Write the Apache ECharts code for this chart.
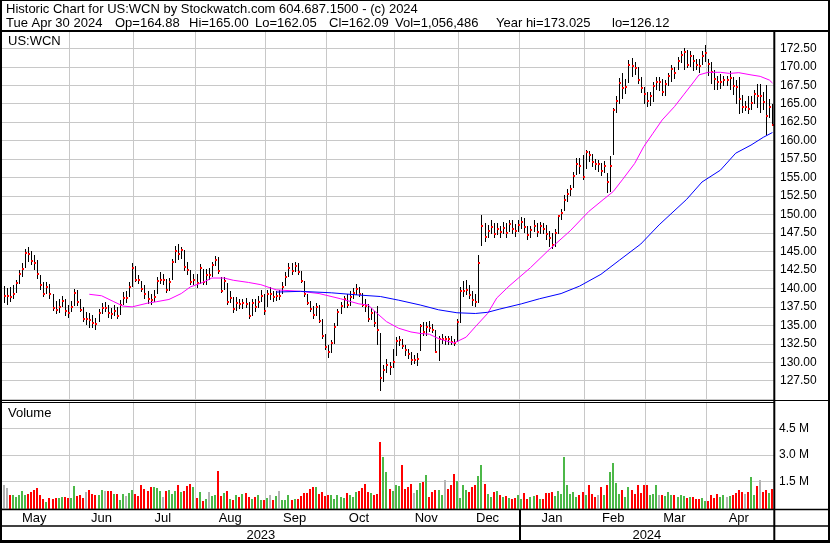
<!DOCTYPE html>
<html><head><meta charset="utf-8">
<script src="https://cdn.jsdelivr.net/npm/echarts@6/dist/echarts.min.js"></script>
<style>html,body{margin:0;padding:0;background:#fff}#c{width:830px;height:543px}</style>
</head><body><div id="c"></div>
<script>
// ---------- DATA ----------
const monthNames = ['May','Jun','Jul','Aug','Sep','Oct','Nov','Dec','Jan','Feb','Mar','Apr'];
const monthYears = [2023,2023,2023,2023,2023,2023,2023,2023,2024,2024,2024,2024];
const monthTradingDays = [22,21,20,23,20,22,21,20,21,20,20,22];

const closes = [
139.0,139.0,138.9,139.2,140.7,141.9,142.6,144.8,144.7,143.7,
143.5,141.9,140.5,139.3,140.2,139.2,137.4,137.1,137.5,138.3,
136.9,136.6,137.5,139.4,138.1,137.1,135.9,135.9,135.7,135.3,
135.2,136.7,137.4,137.4,136.6,136.5,137.0,136.3,137.8,138.7,
138.7,140.2,142.8,141.2,141.1,139.9,139.2,138.6,138.4,138.9,
141.0,141.2,141.2,139.8,140.8,143.6,145.1,144.7,145.2,142.9,
142.5,140.8,141.2,140.7,142.7,140.8,141.8,141.8,143.1,143.9,
142.4,139.7,141.0,138.2,138.7,137.2,138.0,137.9,138.0,137.9,
136.3,138.0,137.5,138.2,139.0,136.9,139.3,139.3,138.8,139.0,
139.0,
140.2,141.5,142.8,142.3,143.0,142.2,141.0,139.2,138.0,137.2,
136.4,137.5,135.6,133.5,132.0,131.4,132.6,134.8,136.8,137.6,
138.5,137.8,138.9,139.4,139.9,139.2,137.8,137.6,135.9,136.6,
135.3,134.3,
127.8,129.0,129.6,129.4,130.1,132.9,133.0,132.2,131.6,131.1,
130.3,130.3,130.4,134.9,134.1,134.8,134.7,134.4,131.4,133.1,
133.2,133.2,133.1,132.8,132.6,135.4,139.6,139.7,139.8,139.1,
138.4,138.2,
143.5,148.5,147.0,147.8,148.3,147.4,148.0,147.6,148.2,147.5,
148.7,148.0,147.8,148.6,149.0,148.3,147.2,147.9,148.5,147.6,
148.4,148.0,147.3,146.8,145.9,147.5,149.8,150.2,152.0,152.8,
153.4,155.2,156.9,
156.6,155.1,158.4,158.0,157.1,156.8,156.8,155.9,156.6,154.4,
156.5,164.1,165.4,167.8,167.1,167.3,170.3,170.1,169.8,168.2,
167.1,166.3,165.4,166.0,167.4,167.9,167.9,166.6,167.6,168.7,
169.7,169.2,170.8,171.6,172.0,170.3,171.5,170.8,170.2,170.1,
171.5,171.8,170.4,169.3,168.3,167.9,168.0,168.2,168.2,168.5,
167.4,167.3,165.6,164.6,164.6,164.3,165.1,166.3,166.0,166.0,
165.2,163.3,164.6,162.09
];

const highs = [
140.3,140.0,140.2,140.5,141.2,142.5,143.5,145.3,145.6,145.0,
144.5,143.8,141.8,140.8,140.9,140.6,139.2,138.3,138.5,139.0,
138.5,137.8,138.3,139.9,139.8,138.6,137.5,136.8,136.6,136.4,
136.0,137.2,138.0,138.2,137.8,137.4,137.8,137.5,138.4,139.5,
139.6,140.8,143.5,143.0,141.8,141.0,140.4,139.7,139.2,139.8,
141.5,142.2,142.0,141.3,141.4,144.0,145.8,146.0,145.6,145.2,
143.6,142.5,142.0,142.0,143.3,142.6,142.6,142.8,143.6,144.4,
144.2,141.5,141.6,140.7,139.6,138.9,138.8,138.6,138.6,138.7,
138.2,138.6,138.6,139.0,139.8,139.3,139.8,140.2,139.6,139.6,
139.8,
140.8,142.2,143.4,143.4,143.6,143.4,142.4,141.0,139.3,138.3,
137.6,138.0,137.8,135.8,133.8,132.4,133.0,135.3,137.2,138.2,
139.0,139.2,139.6,140.0,140.6,140.2,139.4,138.6,137.9,137.3,
137.0,137.6,
133.9,129.6,130.4,130.0,131.8,133.4,133.6,133.1,132.4,131.8,
131.4,131.0,131.3,135.2,135.4,135.4,135.6,135.2,134.4,133.6,
133.8,133.6,133.5,133.5,133.2,135.8,140.2,141.0,141.2,140.4,
139.6,139.3,
144.5,150.0,148.8,148.6,149.2,148.8,148.8,148.5,149.0,148.8,
149.3,149.2,148.7,149.2,149.6,149.5,148.5,148.5,149.2,148.8,
149.0,148.8,148.6,147.8,147.5,148.0,150.0,150.8,152.6,153.4,
154.0,155.8,157.6,
157.6,158.1,158.8,158.6,158.2,157.5,157.4,157.0,157.2,155.6,
157.9,164.4,166.0,168.5,169.1,168.4,170.9,171.2,170.6,170.0,
168.6,167.2,166.6,166.6,167.9,168.6,168.6,168.4,168.2,169.2,
170.2,170.0,171.3,172.2,172.6,172.3,172.2,171.6,171.0,171.0,
172.2,173.0,171.0,170.6,169.5,168.8,169.0,168.8,168.8,169.4,
168.6,168.2,168.6,166.2,165.4,166.0,166.0,166.8,167.6,167.6,
166.6,167.5,165.6,165.0
];

const lows = [
138.0,137.8,138.2,138.6,139.4,140.6,141.5,142.8,143.6,143.2,
142.5,141.3,139.8,138.8,139.2,138.6,137.0,136.5,136.6,137.5,
136.3,136.0,136.8,137.6,137.6,136.8,135.4,135.0,134.6,134.7,
134.4,135.4,136.5,136.8,136.0,135.8,136.3,135.8,136.4,137.8,
138.0,138.8,140.2,140.8,140.6,139.5,138.6,137.9,137.8,138.2,
139.2,140.6,140.5,139.4,139.6,141.2,143.5,143.8,144.0,142.4,
141.8,140.4,140.4,140.1,140.6,140.4,140.5,141.2,141.5,143.0,
142.0,139.4,139.8,137.8,138.0,136.7,137.0,137.2,137.2,137.3,
135.9,136.2,136.8,137.3,138.1,136.4,137.5,138.4,138.2,138.3,
138.4,
139.2,140.3,141.6,141.8,142.2,141.8,140.7,138.8,137.7,136.8,
135.9,136.2,135.3,133.2,131.6,130.6,131.2,132.5,134.9,136.5,
137.4,137.4,137.6,138.6,139.1,138.8,137.5,136.8,135.5,135.7,
134.8,132.4,
126.12,127.3,128.5,128.3,129.2,130.8,132.2,131.8,130.8,130.4,
129.6,129.7,129.5,131.5,133.5,133.6,134.1,133.9,131.2,130.2,
132.5,132.3,132.4,132.4,132.2,132.8,135.3,138.8,139.1,138.5,
137.6,137.5,
138.0,145.8,146.3,146.8,147.4,146.8,147.2,146.8,147.3,146.8,
147.6,147.4,147.0,147.6,148.0,147.5,146.6,146.8,147.6,146.9,
147.4,147.4,146.6,145.6,145.3,145.6,147.3,149.3,150.5,151.7,
152.5,153.6,155.4,
155.5,154.7,156.2,157.1,156.4,156.0,155.8,155.2,155.6,152.9,
153.1,158.0,163.8,165.0,165.7,166.3,167.8,168.6,168.9,167.7,
166.4,164.9,164.6,164.7,165.2,166.8,166.7,166.0,166.0,167.4,
168.0,168.4,169.6,170.5,169.6,169.8,170.0,169.4,169.5,169.2,
170.3,170.6,168.8,167.6,166.9,166.8,167.0,167.4,167.4,166.8,
166.2,165.0,163.6,163.8,164.0,163.6,164.2,165.0,164.4,163.8,
164.2,160.8,163.0,162.05
];

// daily volume, millions of shares
const volumes = [
1.3,1.1,0.7,0.7,0.6,0.75,0.95,0.7,0.8,0.9,1.0,1.1,0.7,0.5,0.35,0.55,0.5,0.55,0.55,0.6,0.6,0.55,
0.55,1.25,0.65,0.7,0.55,0.9,1.0,0.8,0.75,0.75,1.0,0.95,0.95,0.95,0.8,0.8,0.45,0.8,0.65,0.85,1.0,
0.8,0.65,1.3,1.05,0.95,1.15,1.2,1.1,0.95,0.6,0.95,1.0,0.8,0.95,1.3,0.9,0.95,1.25,1.35,1.15,
0.55,0.9,0.4,0.5,0.9,0.65,0.7,2.1,0.65,0.85,0.95,0.5,0.45,0.75,0.6,0.8,0.85,0.6,0.5,0.6,0.75,0.45,0.45,
0.55,0.75,0.45,0.65,0.95,0.45,0.45,0.7,0.45,0.5,0.5,0.65,0.85,0.85,1.05,1.2,1.15,0.8,0.9,0.65,
0.75,0.7,0.5,0.7,0.6,0.55,0.85,0.75,0.6,0.9,0.95,1.1,1.35,0.9,0.85,0.75,0.8,3.74,2.9,2.0,1.05,0.95,
1.3,1.25,2.4,1.05,1.2,1.35,0.85,1.0,1.4,1.45,1.85,0.6,0.9,1.0,1.0,0.75,1.6,1.05,1.3,1.9,1.5,
0.55,1.3,1.0,0.9,1.2,1.3,1.8,2.4,1.35,0.8,0.6,0.9,0.95,0.75,0.6,0.65,0.55,0.5,0.55,0.75,
0.5,0.85,0.5,0.6,0.65,0.75,0.5,0.5,0.85,0.85,0.9,0.65,0.95,0.8,2.9,1.3,0.8,0.9,0.6,0.7,0.9,
0.7,1.3,0.8,0.6,0.7,1.2,0.75,1.3,2.0,2.55,1.4,0.8,1.0,0.6,1.15,1.0,0.8,1.3,0.85,1.3,
1.3,0.75,0.8,1.3,0.75,0.7,0.65,0.9,0.7,0.75,0.6,0.7,0.65,0.55,0.6,0.6,0.5,0.5,0.55,0.4,
0.4,0.7,0.55,0.8,0.6,0.75,0.6,0.65,0.75,0.85,1.0,0.9,0.8,0.9,1.75,0.75,1.25,1.55,0.9,1.0,0.85,1.056486
];

// moving averages: [day index, value]
const maShort = [[28,139.2],[32,139.0],[36,138.2],[39,137.6],[42,137.5],[47,138.0],[50,138.2],[54,138.5],[58,139.3],[61,140.2],[65,140.8],[68,141.4],[72,141.4],[75,141.1],[80,140.8],[84,140.5],[89,139.8],[97,139.6],[103,139.3],[110,138.6],[116,137.9],[119,137.75],[122,136.6],[125,135.5],[129,134.6],[133,134.1],[136,133.9],[139,133.8],[142,133.2],[146,132.7],[147,132.6],[151,133.4],[154,134.8],[158,136.6],[161,138.7],[165,140.3],[172,142.8],[178,145.2],[185,147.8],[191,150.4],[196,152.1],[199,153.1],[202,154.7],[206,156.9],[209,159.2],[212,161.0],[215,162.8],[219,164.6],[222,166.2],[225,167.8],[227,168.9],[230,169.25],[234,169.25],[237,169.1],[240,169.2],[244,168.9],[247,168.7],[250,168.2],[251,167.8]];
const maLong = [[89,139.5],[97,139.6],[107,139.4],[116,139.1],[123,138.9],[129,138.4],[136,137.75],[142,137.1],[148,136.7],[154,136.6],[158,136.76],[162,137.2],[169,137.9],[175,138.6],[182,139.3],[188,140.3],[195,141.9],[201,143.8],[208,146.0],[214,148.6],[223,152.06],[228,154.4],[234,156.0],[239,158.3],[244,159.4],[248,160.45],[251,161.1]];

const priceAxis = {min:125, max:175, step:2.5};
const volumeAxis = {min:0, max:6, step:1.5};

const titleLine1 = 'Historic Chart for US:WCN by Stockwatch.com 604.687.1500 - (c) 2024';
const titleLine2 = ['Tue Apr 30 2024','Op=164.88','Hi=165.00','Lo=162.05','Cl=162.09','Vol=1,056,486','Year hi=173.025','lo=126.12'];

// ---------- BUILD ----------
const categories = [], monthStart = new Set(), monthLabelAt = {}, yearLabelAt = {};
let k = 0; const yearRange = {};
monthNames.forEach((m, mi) => {
  const n = monthTradingDays[mi];
  if (k > 0) monthStart.add(k);
  monthLabelAt[k + Math.floor((n - 1) / 2)] = m;
  const y = monthYears[mi];
  if (!yearRange[y]) yearRange[y] = [k, k];
  for (let d = 0; d < n; d++) { categories.push(m + ' ' + y + ' #' + (d + 1)); k++; }
  yearRange[y][1] = k - 1;
});
Object.keys(yearRange).forEach(y => { const r = yearRange[y]; yearLabelAt[r[0] + Math.floor((r[1] - r[0]) / 2)] = y; });
const janStart = yearRange[2024][0];

const FONT = 'Arial, "Liberation Sans", sans-serif';
const GRID_COLOR = '#c8c8c8';
const GREEN = '#4cb848', RED = '#ff0000', GRAY = '#b4b4b4';
const volColors = closes.map((c, i) => i === 0 ? GRAY : (c > closes[i - 1] ? GREEN : (c < closes[i - 1] ? RED : GRAY)));

const chart = echarts.init(document.getElementById('c'), null, {renderer: 'canvas'});

const plotRight = 774, plotLeft = 2;
const yOf = p => 48.3 + (172.5 - p) * 7.387;
const priceTop = yOf(priceAxis.max), priceBottom = yOf(priceAxis.min);
const volTop = 401.8, volBottom = 507.8;

const option = {
  animation: false,
  backgroundColor: '#fff',
  textStyle: {fontFamily: FONT},
  grid: [
    {left: plotLeft, right: 830 - plotRight, top: priceTop, bottom: 543 - priceBottom, containLabel: false, outerBoundsMode: 'none'},
    {left: plotLeft, right: 830 - plotRight, top: volTop, bottom: 543 - volBottom, containLabel: false, outerBoundsMode: 'none'}
  ],
  xAxis: [
    {type: 'category', gridIndex: 0, data: categories, boundaryGap: true,
     axisLine: {show: false}, axisTick: {show: false}, axisLabel: {show: false},
     splitLine: {show: true, interval: (i) => monthStart.has(i), lineStyle: {color: GRID_COLOR, width: 1}}},
    {type: 'category', gridIndex: 1, data: categories, boundaryGap: true,
     axisLine: {show: false}, axisTick: {show: false},
     axisLabel: {show: true, interval: (i) => monthLabelAt[i] !== undefined, formatter: (v, i) => monthLabelAt[i] || '',
       margin: 4, fontSize: 13, color: '#000', fontFamily: FONT},
     splitLine: {show: true, interval: (i) => monthStart.has(i), lineStyle: {color: GRID_COLOR, width: 1}}},
    {type: 'category', gridIndex: 1, data: categories, boundaryGap: true, position: 'bottom', offset: 18,
     axisLine: {show: false}, axisTick: {show: false}, splitLine: {show: false},
     axisLabel: {show: true, interval: (i) => yearLabelAt[i] !== undefined, formatter: (v, i) => yearLabelAt[i] || '',
       margin: 3, fontSize: 13, color: '#000', fontFamily: FONT}}
  ],
  yAxis: [
    {type: 'value', gridIndex: 0, position: 'right', min: priceAxis.min, max: priceAxis.max, interval: priceAxis.step,
     axisLine: {show: false}, axisTick: {show: false},
     axisLabel: {margin: 6, fontSize: 12, color: '#000', fontFamily: FONT, showMinLabel: false, showMaxLabel: false,
       formatter: v => v.toFixed(2)},
     splitLine: {show: true, lineStyle: {color: GRID_COLOR, width: 1}}},
    {type: 'value', gridIndex: 1, position: 'right', min: volumeAxis.min, max: volumeAxis.max, interval: volumeAxis.step,
     axisLine: {show: false}, axisTick: {show: false},
     axisLabel: {margin: 5, fontSize: 12, color: '#000', fontFamily: FONT, showMinLabel: false, showMaxLabel: false,
       formatter: v => v.toFixed(1) + ' M'},
     splitLine: {show: true, lineStyle: {color: GRID_COLOR, width: 1}}}
  ],
  series: [
    {type: 'custom', name: 'price', xAxisIndex: 0, yAxisIndex: 0, z: 3,
     data: closes.map((c, i) => [i, highs[i], lows[i], c]),
     encode: {x: 0, y: [1, 2, 3]},
     renderItem: (params, api) => {
       const i = api.value(0);
       const h = api.coord([i, api.value(1)]);
       const l = api.coord([i, api.value(2)]);
       const c = api.coord([i, api.value(3)]);
       const px = Math.round(h[0]);
       const ht = Math.round(h[1]), lb = Math.round(l[1]);
       return {type: 'group', children: [
         {type: 'rect', shape: {x: px, y: ht, width: 1, height: Math.max(1, lb - ht)}, style: {fill: '#000'}},
         {type: 'rect', shape: {x: px, y: Math.round(c[1]) - 1, width: 2, height: 2}, style: {fill: '#ff0000'}}
       ]};
     }},
    {type: 'line', name: 'maShort', xAxisIndex: 0, yAxisIndex: 0, z: 4, data: maShort, symbol: 'none',
     lineStyle: {color: '#ff00ff', width: 1}},
    {type: 'line', name: 'maLong', xAxisIndex: 0, yAxisIndex: 0, z: 4, data: maLong, symbol: 'none',
     lineStyle: {color: '#0000ff', width: 1}},
    {type: 'custom', name: 'volume', xAxisIndex: 1, yAxisIndex: 1, z: 3,
     data: volumes.map((v, i) => [i, v]),
     encode: {x: 0, y: 1},
     renderItem: (params, api) => {
       const i = api.value(0);
       const top = api.coord([i, api.value(1)]);
       const base = api.coord([i, 0]);
       const px = Math.round(top[0]);
       const ty = Math.round(top[1]);
       return {type: 'rect', shape: {x: px - 1, y: ty, width: 2, height: Math.round(base[1]) - ty + 2},
               style: {fill: volColors[params.dataIndex]}};
     }}
  ]
};
chart.setOption(option);

// frame & texts
const x0 = chart.convertToPixel({xAxisIndex: 1}, 0), x1 = chart.convertToPixel({xAxisIndex: 1}, 1);
const janX = Math.round(chart.convertToPixel({xAxisIndex: 1}, janStart) - (x1 - x0) / 2);
const line = (xa, ya, xb, yb, w) => ({type: 'line', silent: true, z: 100, shape: {x1: xa, y1: ya, x2: xb, y2: yb}, style: {stroke: '#000', lineWidth: w}});
const txt = (x, y, s, size) => ({type: 'text', silent: true, z: 101, x: x, y: y,
  style: {text: s, fill: '#000', font: size + 'px ' + FONT, textVerticalAlign: 'middle', verticalAlign: 'middle'}});
const t2x = [6, 115, 189, 255, 329, 395, 496, 612];
chart.setOption({graphic: [
  {type: 'rect', silent: true, z: 99, shape: {x: 0, y: 0, width: 830, height: 31}, style: {fill: '#fff'}},
  line(0, 0.5, 830, 0.5, 1),
  line(1, 0, 1, 543, 2),
  line(829, 0, 829, 543, 2),
  line(0, 541.5, 830, 541.5, 3),
  line(0, 31, 830, 31, 2),
  line(774.3, 31, 774.3, 543, 2),
  line(0, 400.5, 830, 400.5, 1),
  line(0, 402.5, 774, 402.5, 1),
  line(0, 509.5, 830, 509.5, 1.5),
  line(0, 526, 830, 526, 1.5),
  line(janX, 509, janX, 541, 2),
  txt(6, 9.5, titleLine1, 13),
  ...titleLine2.map((s, i) => txt(t2x[i], 23.2, s, 13)),
  txt(8, 41.5, 'US:WCN', 13),
  txt(8, 413, 'Volume', 13)
]});
</script>
</body></html>
